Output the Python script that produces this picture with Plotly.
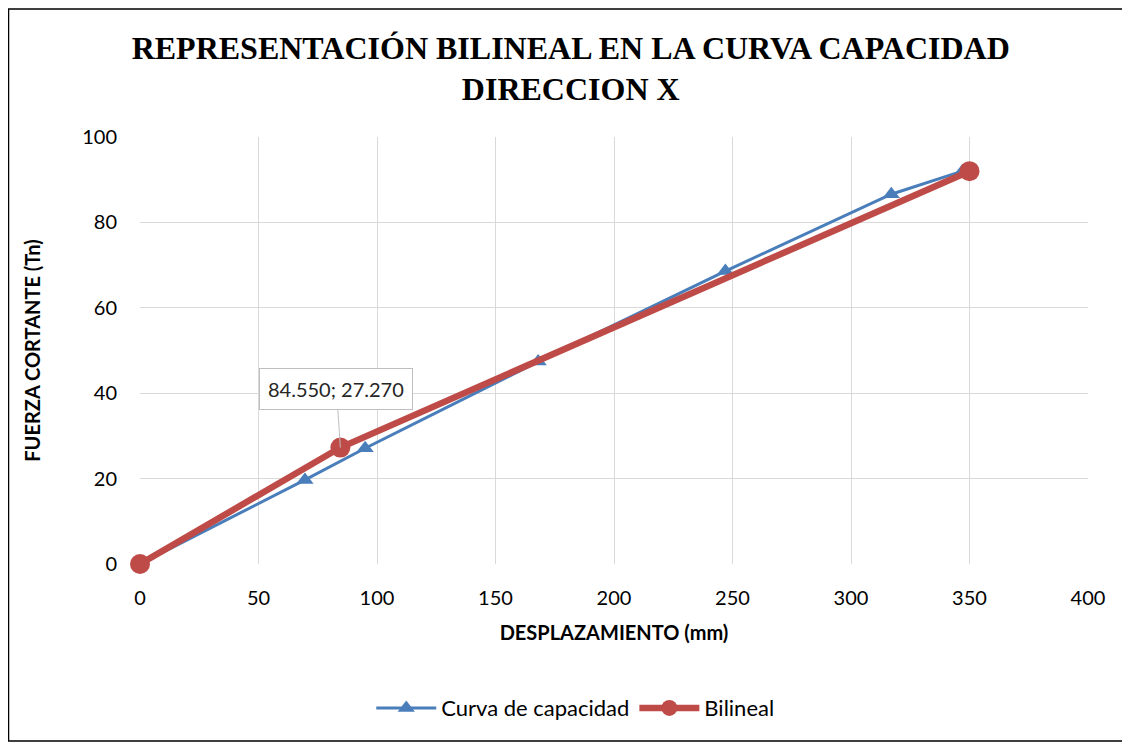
import plotly.graph_objects as go

# Curva de capacidad (desplazamiento mm, cortante Tn)
curva_x = [0, 69.6, 95, 168, 247, 317, 347]
curva_y = [0, 19.7, 27.1, 47.4, 68.6, 86.6, 92]

# Representación bilineal
bilineal_x = [0, 84.55, 350]
bilineal_y = [0, 27.27, 92]

x_ticks = [0, 50, 100, 150, 200, 250, 300, 350, 400]
y_ticks = [0, 20, 40, 60, 80, 100]

AZUL = '#4a7ebb'
ROJO = '#be4b48'
FUENTE = 'Lato, Arial'

fig = go.Figure()

fig.add_trace(go.Scatter(
    x=curva_x, y=curva_y,
    mode='lines+markers',
    name='Curva de capacidad',
    line=dict(color=AZUL, width=3),
    marker=dict(symbol='triangle-up', size=15, color=AZUL),
    cliponaxis=False,
))

fig.add_trace(go.Scatter(
    x=bilineal_x, y=bilineal_y,
    mode='lines+markers',
    name='Bilineal',
    line=dict(color=ROJO, width=6.5),
    marker=dict(symbol='circle', size=20, color=ROJO),
    cliponaxis=False,
))

# Etiqueta del punto de fluencia
fig.add_annotation(
    x=bilineal_x[1], y=bilineal_y[1],
    text=f'{bilineal_x[1]:.3f}; {bilineal_y[1]:.3f}',
    showarrow=True, arrowhead=0, arrowwidth=1, arrowcolor='#bfbfbf',
    ax=-4, ay=-59,
    bgcolor='white', bordercolor='#bfbfbf', borderwidth=1, borderpad=8,
    font=dict(family=FUENTE, size=20, color='#262626'),
)

# Marco exterior del gráfico
fig.add_shape(type='rect', xref='paper', yref='paper',
              x0=-0.1387, x1=1.0422, y0=-0.4145, y1=1.2998,
              line=dict(color='black', width=1.5), layer='below')

fig.update_layout(
    width=1130, height=744,
    margin=dict(l=132, r=50, t=129, b=188),
    paper_bgcolor='white', plot_bgcolor='white',
    title=dict(
        text='<b>REPRESENTACIÓN BILINEAL EN LA CURVA CAPACIDAD<br>DIRECCION X</b>',
        x=0.498, xref='container', xanchor='center',
        y=0.932, yref='container', yanchor='middle',
        font=dict(family='Liberation Serif, Times New Roman', size=32, color='black'),
    ),
    xaxis=dict(
        range=[0, 400], tickvals=x_ticks, showgrid=True, gridcolor='#d9d9d9', gridwidth=1,
        zeroline=False, showline=False, ticks='', ticklabelstandoff=20,
        tickfont=dict(family=FUENTE, size=20, color='black'),
        title=dict(text='<b>DESPLAZAMIENTO (mm)</b>', standoff=17,
                   font=dict(family=FUENTE, size=20, color='black')),
    ),
    yaxis=dict(
        range=[0, 100], tickvals=y_ticks, showgrid=True, gridcolor='#d9d9d9', gridwidth=1,
        zeroline=False, showline=False, ticks='', ticklabelstandoff=22,
        tickfont=dict(family=FUENTE, size=20, color='black'),
        title=dict(text='<b>FUERZA CORTANTE (Tn)</b>', standoff=36,
                   font=dict(family=FUENTE, size=20, color='black')),
    ),
    showlegend=True,
    legend=dict(
        orientation='h', x=0.502, xref='container', xanchor='center',
        y=0.059, yref='container', yanchor='middle',
        font=dict(family=FUENTE, size=22, color='black'),
        itemwidth=60,
    ),
)

fig.write_html("out.html")
